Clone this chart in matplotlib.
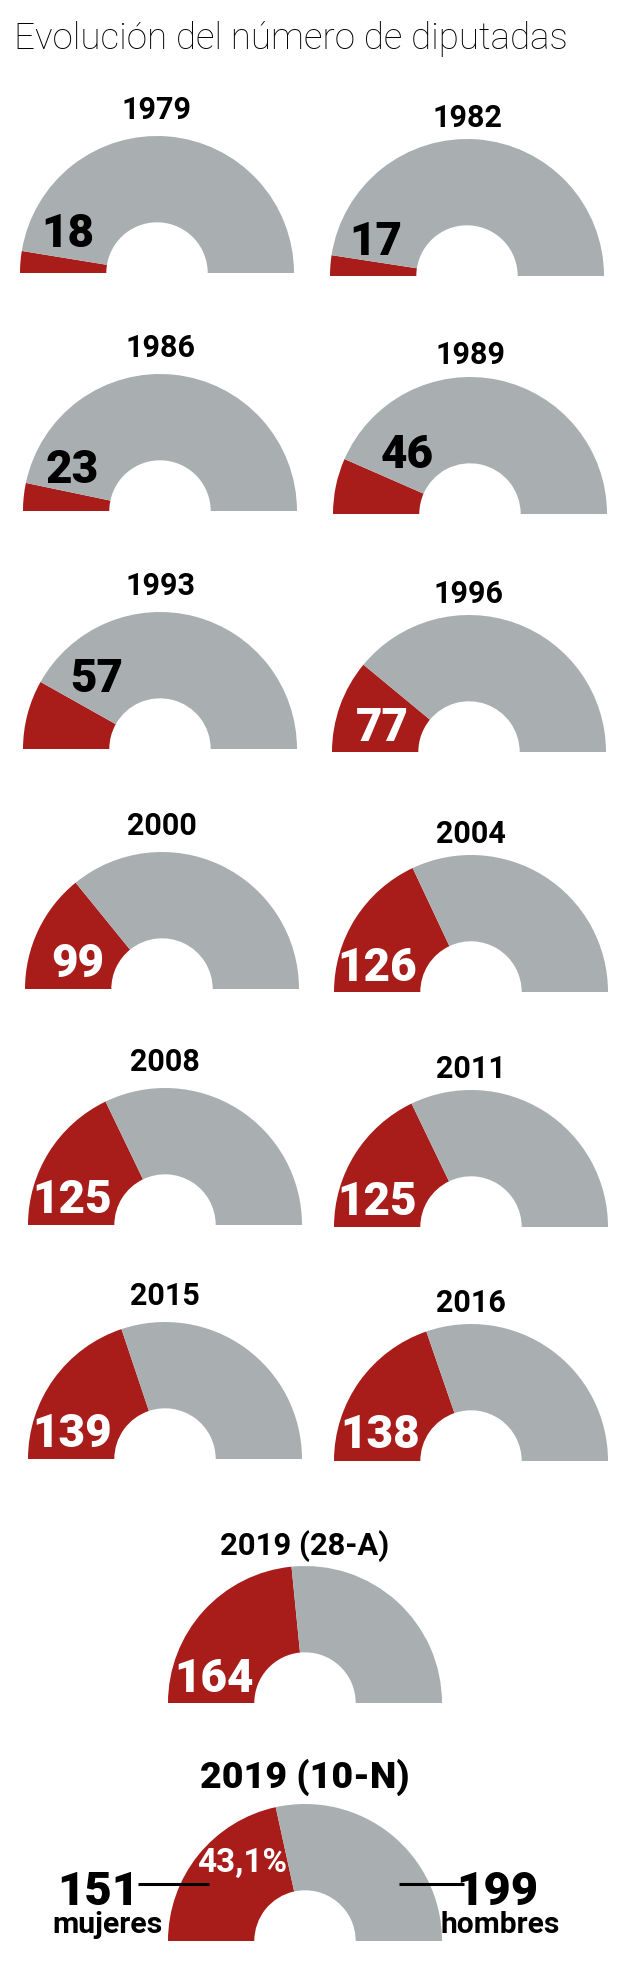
import matplotlib
matplotlib.use('Agg')
import matplotlib.pyplot as plt
from matplotlib import font_manager

# Diputadas elegidas en cada legislatura (Congreso: 350 escaños)
anios = ['1979', '1982', '1986', '1989', '1993', '1996', '2000', '2004',
         '2008', '2011', '2015', '2016', '2019 (28-A)', '2019 (10-N)']
diputadas = [18, 17, 23, 46, 57, 77, 99, 126, 125, 125, 139, 138, 164, 151]
TOTAL_ESCANOS = 350
porcentaje_final = '43,1%'
etiquetas_final = ['mujeres', 'hombres']

ROJO = '#a81c1a'
GRIS = '#a9afb0'

W, H = 624, 1974
R = 137  # radio del semicírculo en píxeles

# Maquetación (píxeles): centro x y base y de cada semicírculo
posiciones = [(157, 274), (467, 277), (160, 512), (470, 515), (160, 750), (469, 753),
              (162, 990), (471, 993), (165, 1226), (471, 1228), (165, 1460), (471, 1462),
              (305, 1704), (305, 1942)]
# posición de la cifra (centro x, línea base) respecto al centro del gráfico
desp_cifra = [(-89, -27), (-91, -22), (-88, -29), (-63, -47), (-63, -58), (-87, -12),
              (-84, -13), (-94, -12), (-93, -13), (-94, -13), (-93, -13), (-91, -14),
              (-91, -12)]
desp_anio = [-155, -150, -155, -151, -155, -150, -155, -150, -155, -150, -155, -150, -149, -154]

nombres = {f.name for f in font_manager.fontManager.ttflist}
fam = 'Roboto' if 'Roboto' in nombres else 'DejaVu Sans'

fig = plt.figure(figsize=(W / 100, H / 100), dpi=100)
renderer = fig.canvas.get_renderer()


def ajustar_ancho(t, ancho):
    w = t.get_window_extent(renderer=renderer).width
    t.set_fontsize(t.get_fontsize() * ancho / w)


for i, m in enumerate(diputadas):
    cx, base = posiciones[i]
    ax = fig.add_axes([(cx - R) / W, (H - base) / H, 2 * R / W, R / H])
    ax.pie([m, TOTAL_ESCANOS - m, TOTAL_ESCANOS], colors=[ROJO, GRIS, 'none'],
           startangle=180, counterclock=False,
           wedgeprops=dict(width=0.63, linewidth=0))
    ax.set_aspect('auto')
    ax.set_xlim(-1, 1)
    ax.set_ylim(0, 1)
    ax.axis('off')

# capa de textos en coordenadas de píxel
capa = fig.add_axes([0, 0, 1, 1], zorder=10)
capa.set_xlim(0, W)
capa.set_ylim(H, 0)
capa.axis('off')

titulo = capa.text(14, 49, 'Evolución del número de diputadas', fontsize=27,
                   family=fam, fontweight='light', ha='left', va='baseline',
                   color='black')
ajustar_ancho(titulo, 554)

negrita = dict(family=fam, fontweight='bold')
cifras = dict(family=fam, fontweight='heavy')

for i, m in enumerate(diputadas):
    cx, base = posiciones[i]
    t = capa.text(cx, base + desp_anio[i], anios[i], fontsize=22, ha='center',
                  va='baseline', color='black', **negrita)
    if i == len(diputadas) - 2:
        ajustar_ancho(t, 169)
    if i == len(diputadas) - 1:
        t.set_fontweight('heavy')
        ajustar_ancho(t, 209)
    if i < len(desp_cifra):
        dx, dy = desp_cifra[i]
        color = 'white' if m >= 70 else 'black'
        capa.text(cx + dx, base + dy, str(m), fontsize=33, ha='center',
                  va='baseline', color=color, **cifras)

# último gráfico: detalle mujeres / hombres
cx, base = posiciones[-1]
m = diputadas[-1]
t = capa.text(cx - 63, base - 70, porcentaje_final, fontsize=22, ha='center',
              va='baseline', color='white', **negrita)
ajustar_ancho(t, 90)
capa.text(cx - 207, base - 37, str(m), fontsize=34, ha='center', va='baseline',
          color='black', **cifras)
capa.text(cx + 192, base - 37, str(TOTAL_ESCANOS - m), fontsize=34, ha='center',
          va='baseline', color='black', **cifras)
t = capa.text(cx - 197, base - 9, etiquetas_final[0], fontsize=20, ha='center',
              va='baseline', color='black', **negrita)
ajustar_ancho(t, 110)
t = capa.text(cx + 195, base - 9, etiquetas_final[1], fontsize=20, ha='center',
              va='baseline', color='black', **negrita)
ajustar_ancho(t, 119)
capa.plot([cx - 167, cx - 96], [base - 57, base - 57], color='black', lw=2.2,
          solid_capstyle='butt')
capa.plot([cx + 94, cx + 159], [base - 57, base - 57], color='black', lw=2.2,
          solid_capstyle='butt')

fig.savefig('out.png', dpi=100, facecolor='white')
